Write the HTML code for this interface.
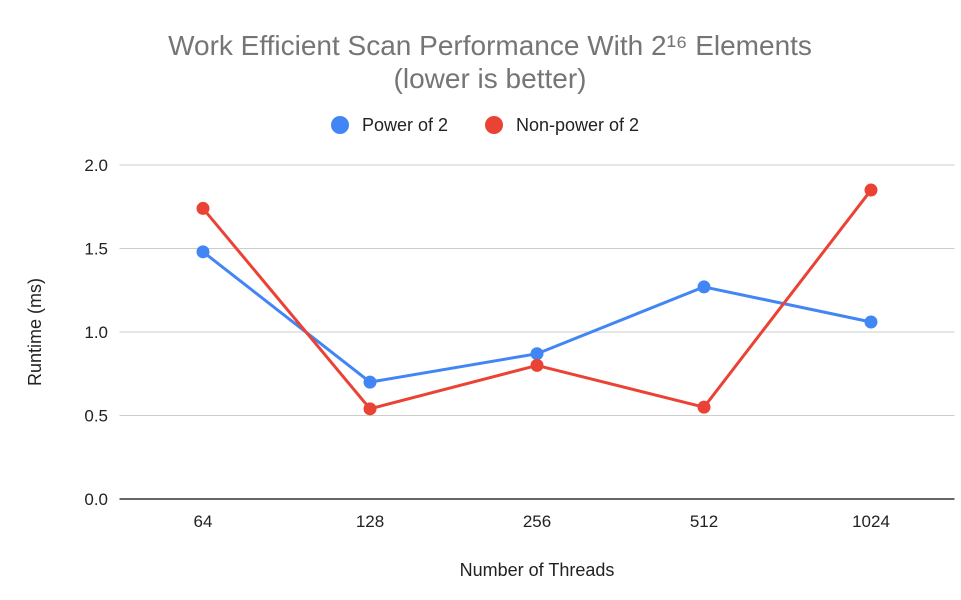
<!DOCTYPE html>
<html><head><meta charset="utf-8"><style>
html,body{margin:0;padding:0;background:#fff;}
svg{display:block;font-family:"Liberation Sans",Arial,sans-serif;}
</style></head><body>
<svg id="chart" width="961" height="600" viewBox="0 0 961 600">
<rect width="961" height="600" fill="#fff"/>
<text x="490" y="55" text-anchor="middle" font-size="28" fill="#757575">Work Efficient Scan Performance With 2¹⁶ Elements</text>
<text x="490" y="88" text-anchor="middle" font-size="28" fill="#757575">(lower is better)</text>
<g>
<g>
<circle cx="340" cy="125" r="9" fill="#4285f4"/>
<text x="362" y="131" font-size="18" fill="#222">Power of 2</text></g>
<g>
<circle cx="494" cy="125" r="9" fill="#ea4335"/>
<text x="516" y="131" font-size="18" fill="#222">Non-power of 2</text></g>
</g>
<g id="grid"></g>
<g id="xlabels"></g>
<g id="series"></g>
<text x="0" y="0" transform="translate(41,332) rotate(-90)" text-anchor="middle" font-size="18" fill="#222">Runtime (ms)</text>
<text x="537" y="576" text-anchor="middle" font-size="18" fill="#222">Number of Threads</text>
</svg>
<script>
const categories = ["64","128","256","512","1024"];
const powerOf2 = [1.48, 0.70, 0.87, 1.27, 1.06];
const nonPowerOf2 = [1.74, 0.54, 0.80, 0.55, 1.85];
const yTicks = [0, 0.5, 1.0, 1.5, 2.0];
const yTickLabels = ["0.0","0.5","1.0","1.5","2.0"];

const NS = "http://www.w3.org/2000/svg";
const left = 119.5, right = 954.5, y0 = 499, yTop = 165, yMax = 2.0;
const band = (right - left) / categories.length;
function xPos(i){ return left + band * (i + 0.5); }
function yPos(v){ return y0 - (v / yMax) * (y0 - yTop); }
function mk(tag, attrs, parent){ const e = document.createElementNS(NS, tag); for (const k in attrs) e.setAttribute(k, attrs[k]); parent.appendChild(e); return e; }

const grid = document.getElementById("grid");
yTicks.forEach((t, i) => {
  const l = mk("line", {x1:left, x2:right, y1:yPos(t), y2:yPos(t), stroke: t===0 ? "#333" : "#ccc", "stroke-width": t===0 ? 1.5 : 1}, grid);
  
  
  const tx = mk("text", {x:108, y:yPos(t)+6, "text-anchor":"end", "font-size":17, fill:"#222"}, grid);
  tx.textContent = yTickLabels[i];
  
  
});
const xl = document.getElementById("xlabels");
categories.forEach((c, i) => {
  const tx = mk("text", {x:xPos(i), y:527, "text-anchor":"middle", "font-size":17, fill:"#222"}, xl);
  tx.textContent = c;
  
  
});
const sg = document.getElementById("series");
function drawSeries(vals, color, name, w){
  const pts = vals.map((v, i) => xPos(i) + "," + yPos(v)).join(" ");
  const pl = mk("polyline", {points:pts, fill:"none", stroke:color, "stroke-width":w, "stroke-linejoin":"round"}, sg);
  
  
  vals.forEach((v, i) => {
    const c = mk("circle", {cx:xPos(i), cy:yPos(v), r:6.5, fill:color}, sg);
    
    
  });
}
drawSeries(powerOf2, "#4285f4", "power-of-2", 3);
drawSeries(nonPowerOf2, "#ea4335", "non-power-of-2", 3);
</script>
</body></html>
